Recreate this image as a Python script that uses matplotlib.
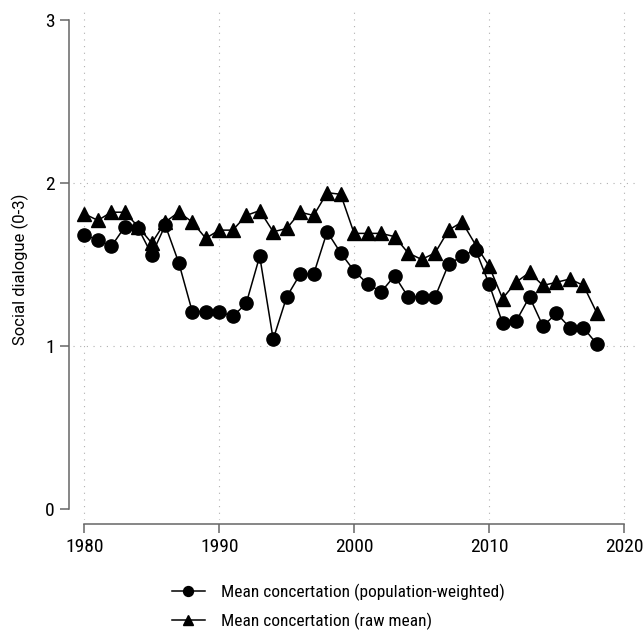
import numpy as np
import matplotlib
matplotlib.use("Agg")
import matplotlib.pyplot as plt
from matplotlib import font_manager

# pick a narrow font if one is installed
names = {f.name for f in font_manager.fontManager.ttflist}
font = "DejaVu Sans"
for cand in ["Roboto Condensed", "Liberation Sans Narrow", "DejaVu Sans Condensed"]:
    if cand in names:
        font = cand
        break
plt.rcParams["font.family"] = [font, "DejaVu Sans"]

years = np.arange(1980, 2019)

weighted = [1.68, 1.65, 1.61, 1.73, 1.72, 1.56, 1.74, 1.51, 1.21, 1.21,
            1.21, 1.18, 1.26, 1.55, 1.04, 1.30, 1.44, 1.44, 1.70, 1.57,
            1.46, 1.38, 1.33, 1.43, 1.30, 1.30, 1.30, 1.50, 1.55, 1.59,
            1.38, 1.14, 1.15, 1.30, 1.12, 1.20, 1.11, 1.11, 1.01]

raw = [1.81, 1.77, 1.82, 1.82, 1.73, 1.63, 1.76, 1.82, 1.76, 1.66,
       1.71, 1.71, 1.80, 1.83, 1.70, 1.72, 1.82, 1.80, 1.94, 1.93,
       1.69, 1.69, 1.69, 1.67, 1.57, 1.53, 1.57, 1.71, 1.76, 1.62,
       1.49, 1.29, 1.39, 1.45, 1.37, 1.39, 1.41, 1.37, 1.20]

labels = ["Mean concertation (population-weighted)",
          "Mean concertation (raw mean)"]

W, H = 644, 632
fig = plt.figure(figsize=(W / 100, H / 100), dpi=100)
ax = fig.add_axes([73 / W, 1 - 520 / H, (640 - 73) / W, (520 - 8) / H])

ax.plot(years, weighted, color="black", lw=1.1, marker="o", ms=9.5, label=labels[0])
ax.plot(years, raw, color="black", lw=1.1, marker="^", ms=10, label=labels[1])

ax.set_xlim(1979.16, 2021.19)
ax.set_ylim(-0.07, 3.074)
ax.set_xticks([1980, 1990, 2000, 2010, 2020])
ax.set_yticks([0, 1, 2, 3])

grid = dict(color="#b0b0b0", lw=0.8, ls=(0, (1, 5)))
for x in [1980, 1990, 2000, 2010, 2020]:
    ax.axvline(x, zorder=0, **grid)
for y in [1, 2]:
    ax.axhline(y, zorder=0, **grid)

for side in ["top", "right"]:
    ax.spines[side].set_visible(False)
ax.spines["left"].set_position(("outward", 3))
ax.spines["bottom"].set_position(("outward", 3))
ax.spines["left"].set_bounds(0, 3)
ax.spines["bottom"].set_bounds(1980, 2020)
for side in ["left", "bottom"]:
    ax.spines[side].set_color("#666666")
    ax.spines[side].set_linewidth(1.1)
ax.tick_params(length=6.5, width=1.1, color="#666666", pad=3.5, labelsize=14)

fig.text(20 / W, 1 - 269 / H, "Social dialogue (0-3)", rotation=90,
         ha="center", va="center", fontsize=12, family=["Roboto", "DejaVu Sans"])

leg = fig.legend(loc="upper left", bbox_to_anchor=(172 / W, 1 - 584 / H),
                 frameon=False, fontsize=12.5, handlelength=1.9, labelspacing=0.68,
                 handletextpad=0.92, borderpad=0, borderaxespad=0, markerscale=0.75)

fig.savefig("out.png", dpi=100)
